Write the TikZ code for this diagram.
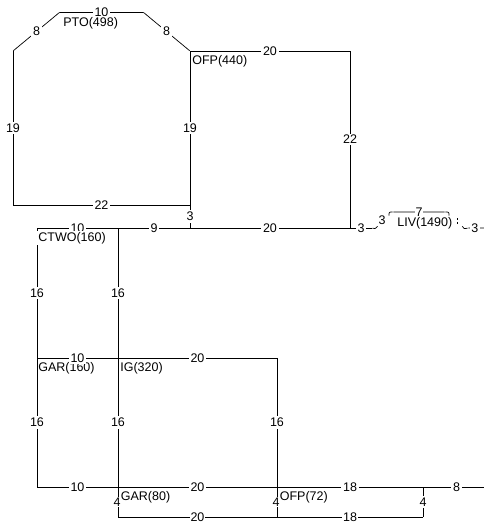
\documentclass[tikz,border=0pt]{standalone}
\usepackage{fontspec}
\setmainfont{Liberation Sans}

\begin{document}
\begin{tikzpicture}[x=1pt, y=-1pt, line width=0.7pt,
        empty/.style={minimum size=0mm, inner sep=0pt, fill=none, draw=none},
        num/.style={fill=white, inner sep=1.6pt, font=\fontsize{12.5}{12.5}\selectfont},
        place/.style={anchor=north west, fill=white, inner sep=1pt,
          font=\fontsize{12.5}{12.5}\selectfont}]
        \useasboundingbox (0,0) rectangle (483,523);
        \node (A1) at (13,51) [empty] {};
        \node (A2) at (60,12) [empty] {};
        \node (A3) at (143,12) [empty] {};
        \node (OFPa) at (190,51) [empty] {};
        \node (A4) at (13,205) [empty] {};
        \node (A5) at (190,205) [empty] {};
        \node (A6) at (350,51) [empty] {};
        \node (A7) at (190,228) [empty] {};
        \node (A8) at (350,228) [empty] {};
        \node (CTWO) at (37,228) [empty] {};
        \node (B1) at (118,228) [empty] {};
        \node (GARa) at (37,358) [empty] {};
        \node (IG) at (118,358) [empty] {};
        \node (C1) at (277,358) [empty] {};
        \node (D1) at (37,487) [empty] {};
        \node (GARb) at (118,487) [empty] {};
        \node (OFPb) at (277,487) [empty] {};
        \node (D2) at (423,487) [empty] {};
        \node (D3) at (490,487) [empty] {};
        \node (E1) at (118,517) [empty] {};
        \node (E2) at (277,517) [empty] {};
        \node (E3) at (423,517) [empty] {};
        \node (R1) at (372,228) [empty] {};
        \node (R2) at (378,226) [empty] {};
        \node (L1) at (389,216) [empty] {};
        \node (L2) at (393,212) [empty] {};
        \node (L3) at (445,212) [empty] {};
        \node (L4) at (449,216) [empty] {};
        \node (M1) at (457,218) [empty] {};
        \node (M2) at (457,224) [empty] {};
        \node (N1) at (462,226) [empty] {};
        \node (N2) at (468,228) [empty] {};
        \node (N3) at (490,228) [empty] {};
        \node (GARtxt) at (GARa) [place, yshift=-3pt] {GAR(160)};
      \draw (A1) -- node[num]{8} (A2);
      \draw (A2) -- node[num]{10} (A3);
      \draw (A3) -- node[num]{8} (OFPa);
      \draw (A1) -- node[num]{19} (A4);
      \draw (A4) -- node[num]{22} (A5);
      \draw (OFPa) -- node[num]{19} (A5);
      \draw (A5) -- node[num]{3} (A7);
      \draw (OFPa) -- node[num]{20} (A6);
      \draw (A6) -- node[num]{22} (A8);
      \draw (CTWO) -- node[num]{10} (B1);
      \draw (B1) -- node[num]{9} (A7);
      \draw (A7) -- node[num]{20} (A8);
      \draw (A8) -- node[num]{3} (R1);
      \draw (R1) .. controls (375,229) .. (R2);
      \draw (L1) .. controls (389,212) .. (L2) -- node[num, inner sep=1pt]{7} (L3)
        .. controls (449,212) .. (L4);
      \draw[dash pattern=on 2pt off 1.5pt] (M1) -- (M2);
      \draw (N1) .. controls (464,229) .. (N2) -- node[num, pos=0.3]{3} (N3);
      \draw (CTWO) -- node[num]{16} (GARa);
      \draw (GARa) -- node[num]{16} (D1);
      \draw (B1) -- node[num]{16} (IG);
      \draw (IG) -- node[num]{16} (GARb);
      \draw (GARa) -- node[num]{10} (IG);
      \draw (IG) -- node[num]{20} (C1);
      \draw (C1) -- node[num]{16} (OFPb);
      \draw (D1) -- node[num]{10} (GARb);
      \draw (GARb) -- node[num]{20} (OFPb);
      \draw (OFPb) -- node[num]{18} (D2);
      \draw (D2) -- node[num]{8} (D3);
      \draw (D2) -- node[num]{4} (E3);
      \draw (E1) -- node[num, inner sep=1pt]{20} (E2);
      \draw (E2) -- node[num, inner sep=1pt]{18} (E3);
        \node (GARbtxt) at (GARb) [place, xshift=1.5pt, yshift=-3pt] {GAR(80)};
        \node (OFPbtxt) at (OFPb) [place, xshift=1.5pt, yshift=-3pt] {OFP(72)};
      \draw (GARb) -- node[num, inner sep=1pt, xshift=-1pt]{4} (E1);
      \draw (OFPb) -- node[num, inner sep=1pt, xshift=-1pt]{4} (E2);
        \node (PTOtxt) at (A2) [place, xshift=2pt, yshift=-4pt] {PTO(498)};
        \node (OFPatxt) at (OFPa) [place, xshift=1pt, yshift=-3pt] {OFP(440)};
        \node (CTWOtxt) at (CTWO) [place, yshift=-3pt] {CTWO(160)};
        \node (IGtxt) at (IG) [place, xshift=1pt, yshift=-3pt] {IG(320)};
        \node (LIV) at (397,223) [anchor=west, inner sep=0pt,
          font=\fontsize{12.5}{12.5}\selectfont] {LIV(1490)};
        \node (T3) at (382,220) [num, fill=none] {3};
        \node (EDGE3) at (487,357) [num, fill=none] {3};
    \end{tikzpicture}
\end{document}
